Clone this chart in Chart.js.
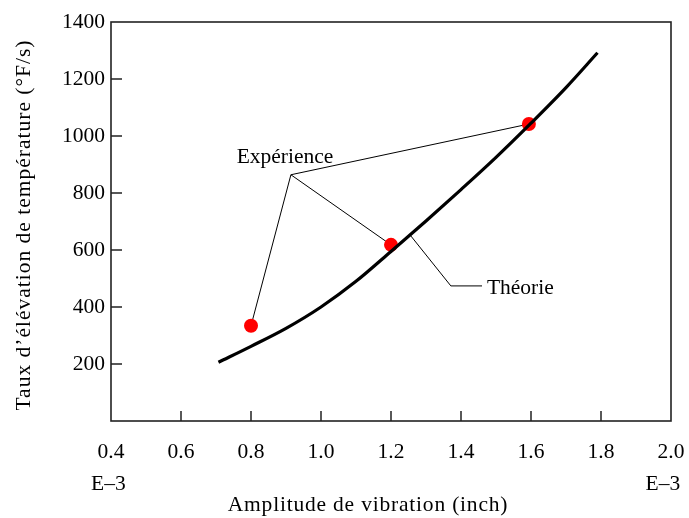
<!DOCTYPE html>
<html>
<head>
<meta charset="utf-8">
<script src="https://cdn.jsdelivr.net/npm/chart.js@4.4.0/dist/chart.umd.min.js"></script>
<style>
  html, body { margin: 0; padding: 0; background: #fff; }
  #wrap { width: 689px; height: 518px; }
</style>
</head>
<body>
<div id="wrap"><canvas id="chart"></canvas></div>
<script>
// theory curve
const theoryX = [0.707, 0.8, 0.9, 1.0, 1.1, 1.2, 1.3, 1.4, 1.5, 1.6, 1.7, 1.79];
const theoryY = [206, 262, 325, 400, 490, 595, 702, 812, 925, 1045, 1170, 1292];

// experiment points
const expX = [0.8, 1.2, 1.594];
const expY = [334, 618, 1042];

const xTicks = [0.4, 0.6, 0.8, 1.0, 1.2, 1.4, 1.6, 1.8, 2.0];
const yTicks = [200, 400, 600, 800, 1000, 1200, 1400];

const FONT = '"Liberation Serif", "Times New Roman", serif';
const FS = 21.5;

Chart.defaults.font.family = FONT;
Chart.defaults.font.size = FS;
Chart.defaults.color = '#000';

// leader lines for the labels, in data units
const expHub = { x: 0.914, y: 864 };
const expText = { x: 0.759, y: 924 };
const theoryLeader = [{ x: 1.257, y: 649 }, { x: 1.371, y: 474 }, { x: 1.46, y: 474 }];
const theoryText = { x: 1.474, y: 466 };

const framePlugin = {
  id: 'frame',
  beforeDatasetsDraw(chart) {
    const { ctx, scales: { x, y } } = chart;
    ctx.save();
    ctx.strokeStyle = '#000';
    ctx.lineWidth = 1;
    // Expérience leaders
    expX.forEach((v, i) => {
      ctx.beginPath();
      ctx.moveTo(x.getPixelForValue(expHub.x), y.getPixelForValue(expHub.y));
      ctx.lineTo(x.getPixelForValue(v), y.getPixelForValue(expY[i]));
      ctx.stroke();
    });
    // Théorie leader
    ctx.beginPath();
    theoryLeader.forEach((p, i) => {
      const px = x.getPixelForValue(p.x), py = y.getPixelForValue(p.y);
      if (i === 0) ctx.moveTo(px, py); else ctx.lineTo(px, py);
    });
    ctx.stroke();
    ctx.restore();
  },
  afterDraw(chart) {
    const { ctx, chartArea: a, scales: { x, y } } = chart;
    ctx.save();
    ctx.strokeStyle = '#222';
    ctx.lineWidth = 1.6;
    ctx.strokeRect(a.left, a.top, a.right - a.left, a.bottom - a.top);

    // inside tick marks
    ctx.lineWidth = 1.5;
    ctx.beginPath();
    xTicks.slice(1, -1).forEach(v => {
      const px = x.getPixelForValue(v);
      ctx.moveTo(px, a.bottom);
      ctx.lineTo(px, a.bottom - 10);
    });
    yTicks.slice(0, -1).forEach(v => {
      const py = y.getPixelForValue(v);
      ctx.moveTo(a.left, py);
      ctx.lineTo(a.left + 11, py);
    });
    ctx.stroke();

    ctx.fillStyle = '#000';
    ctx.font = FS + 'px ' + FONT;
    ctx.textBaseline = 'middle';
    ctx.textAlign = 'left';
    ctx.fillText('Expérience', x.getPixelForValue(expText.x), y.getPixelForValue(expText.y));
    ctx.fillText('Théorie', x.getPixelForValue(theoryText.x), y.getPixelForValue(theoryText.y));

    // axis titles
    ctx.textAlign = 'center';
    ctx.letterSpacing = '0.8px';
    ctx.fillText('Amplitude de vibration (inch)', 368, 505);
    ctx.letterSpacing = '1px';
    ctx.translate(24, 225);
    ctx.rotate(-Math.PI / 2);
    ctx.fillText('Taux d\u2019élévation de température (°F/s)', 0, 0);
    ctx.restore();
  }
};

function tickLabel(v, i, arr) {
  const s = v.toFixed(1);
  if (i === 0) return [s, 'E\u20133 '];
  if (i === arr.length - 1) return [s, 'E\u20133   '];
  return s;
}

function renderChart() {
  new Chart(document.getElementById('chart'), {
    type: 'scatter',
    data: {
      datasets: [
        {
          type: 'line',
          label: 'Théorie',
          data: theoryX.map((v, i) => ({ x: v, y: theoryY[i] })),
          borderColor: '#000', borderWidth: 3.2,
          pointRadius: 0, fill: false,
          cubicInterpolationMode: 'monotone',
          order: 0
        },
        {
          label: 'Expérience',
          data: expX.map((v, i) => ({ x: v, y: expY[i] })),
          backgroundColor: '#ff0000', borderWidth: 0,
          pointRadius: 7,
          order: 1
        }
      ]
    },
    options: {
      responsive: true,
      maintainAspectRatio: false,
      animation: false,
      layout: { padding: { left: 0, top: 22, right: 18, bottom: 0 } },
      plugins: { legend: { display: false }, tooltip: { enabled: false } },
      scales: {
        x: {
          type: 'linear', min: 0.4, max: 2.0,
          grid: { display: false, drawTicks: false },
          border: { display: false },
          afterBuildTicks: s => { s.ticks = xTicks.map(v => ({ value: v })); },
          afterFit: s => { s.height = 97; s.paddingLeft = 0; s.paddingRight = 0; },
          ticks: {
            padding: 15,
            font: { size: FS, lineHeight: 1.5 },
            maxRotation: 0, autoSkip: false,
            callback: tickLabel
          }
        },
        y: {
          type: 'linear', min: 0, max: 1400,
          grid: { display: false, drawTicks: false },
          border: { display: false },
          afterBuildTicks: s => { s.ticks = yTicks.map(v => ({ value: v })); },
          afterFit: s => { s.width = 111; s.paddingTop = 0; s.paddingBottom = 0; },
          ticks: { padding: 6, autoSkip: false, callback: v => String(v) }
        }
      }
    },
    plugins: [framePlugin]
  });
}

document.addEventListener('DOMContentLoaded', renderChart);
</script>
</body>
</html>
